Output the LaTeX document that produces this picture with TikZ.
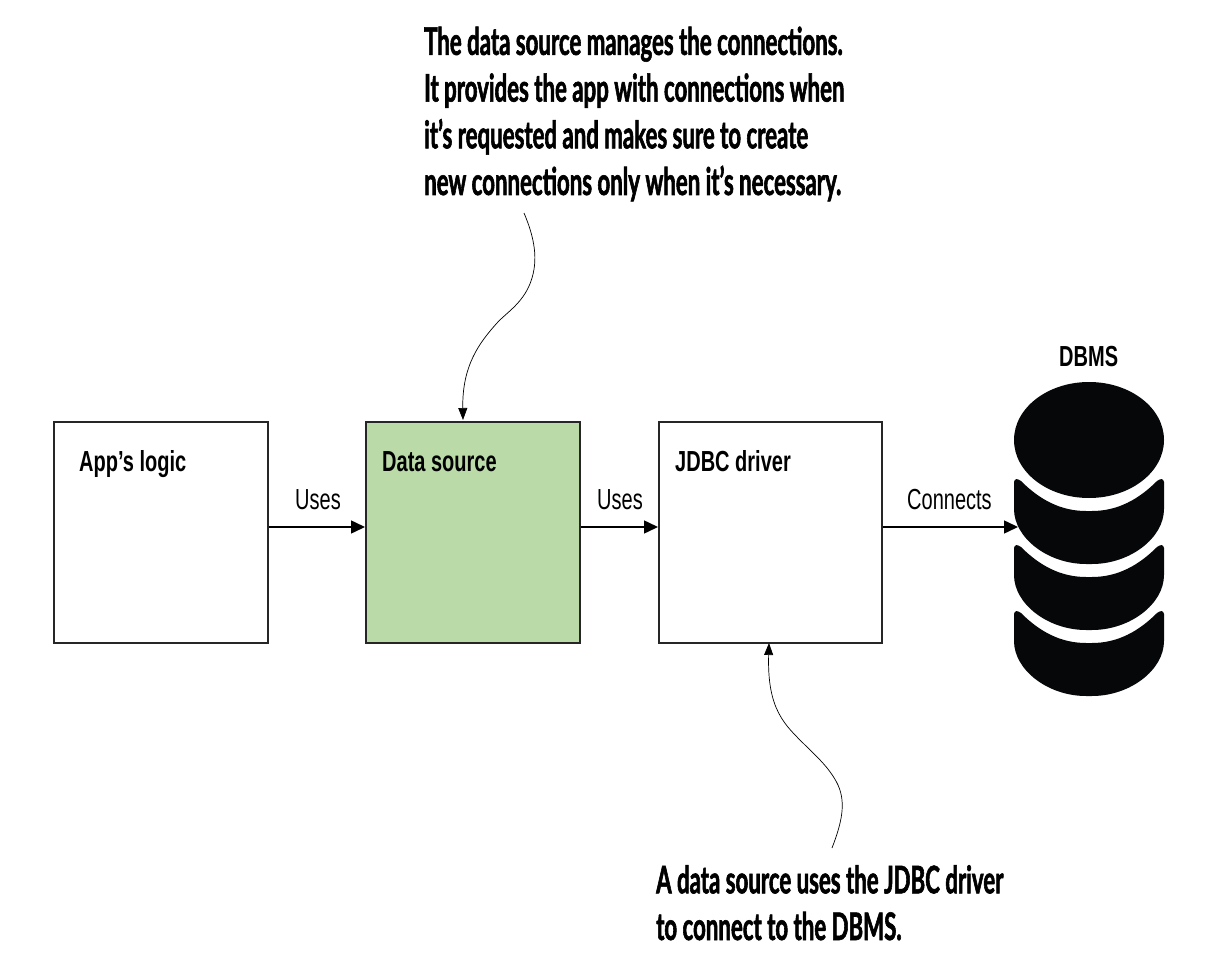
\documentclass[tikz,border=0pt]{standalone}
\usepackage{fontspec}
\setmainfont{Liberation Sans}
\newfontfamily\labelfont[FakeStretch=0.69]{Liberation Sans}
\newfontfamily\notefont[FakeStretch=0.585,FakeBold=1.5]{Lato Bold}
\usetikzlibrary{arrows.meta}
\definecolor{dsgreen}{HTML}{BADBA8}
\definecolor{inkblack}{HTML}{050708}
\tikzset{
  x=1pt,y=-1pt,
  boxnode/.style={draw=black!85,line width=1.5pt,minimum width=#1,minimum height=221pt,inner sep=0pt,anchor=north west},
  boxlabel/.style={anchor=base west,inner sep=0pt,font=\labelfont\bfseries\fontsize{29}{30}\selectfont},
  edgelabel/.style={anchor=base west,inner sep=0pt,font=\labelfont\fontsize{29}{30}\selectfont},
  notetext/.style={anchor=base west,inner sep=0pt,align=left,font=\notefont\fontsize{38}{46.7}\selectfont},
  flow/.style={line width=1.5pt,-{Triangle[length=14pt,width=13pt]}},
  callout/.style={line width=0.7pt,-{Triangle[length=12pt,width=9pt]}},
  dbpart/.style={fill=inkblack,line join=round}
}
\newcommand{\dblayer}[1]{%
  \fill[dbpart,rounded corners=3pt] (1014,#1) -- (1019,#1) .. controls (1039,#1+20) and (1060,#1+32) .. (1089,#1+32)
    .. controls (1118,#1+32) and (1139,#1+20) .. (1159,#1) -- (1164,#1)
    -- (1164,#1+27) .. controls (1164,#1+59) and (1130,#1+85) .. (1089,#1+85)
    .. controls (1048,#1+85) and (1014,#1+59) .. (1014,#1+27) -- cycle;}
\begin{document}
\begin{tikzpicture}
\useasboundingbox (0,0) rectangle (1226,976);
\node[boxnode=214pt] (app) at (53,421) {};
\node[boxnode=214pt,fill=dsgreen] (ds) at (365,421) {};
\node[boxnode=223pt] (jdbc) at (658,421) {};
\node[boxlabel] (applabel) at (79,471.5) {App’s logic};
\node[boxlabel] (dslabel) at (382,471.5) {Data source};
\node[boxlabel] (jdbclabel) at (675,471.5) {JDBC driver};
\node[edgelabel] (uses1) at (295,509) {Uses};
\node[edgelabel] (uses2) at (597,509) {Uses};
\node[edgelabel] (conn) at (907,509) {Connects};
\node[boxlabel] (dbms) at (1059,366) {DBMS};
\fill[dbpart] (1089,440) ellipse [x radius=75, y radius=58];
\dblayer{479}
\dblayer{545}
\dblayer{611}
\coordinate (dbin) at (1018,527);
\draw[flow] (app.east |- 0,527) -- (ds.west |- 0,527);
\draw[flow] (ds.east |- 0,527) -- (jdbc.west |- 0,527);
\draw[flow] (jdbc.east |- 0,527) -- (dbin);
\node[notetext] (topnote) at (424,195) {The data source manages the connections.\\It provides the app with connections when\\it’s requested and makes sure to create\\new connections only when it’s necessary.};
\node[notetext] (botnote) at (656,940) {A data source uses the JDBC driver\\to connect to the DBMS.};
\coordinate (topstart) at (524,213);
\coordinate (topend) at (463,420);
\coordinate (botstart) at (832,848);
\coordinate (botend) at (769,643);
\draw[callout] (topstart) .. controls (532,232) and (539,255) .. (532,278)
  .. controls (525,302) and (507,312) .. (497,323)
  .. controls (480,342) and (462,365) .. (topend);
\draw[callout] (botstart) .. controls (842,822) and (846,803) .. (838,785)
  .. controls (830,768) and (815,755) .. (805,745)
  .. controls (785,725) and (767,710) .. (botend);
\end{tikzpicture}
\end{document}
